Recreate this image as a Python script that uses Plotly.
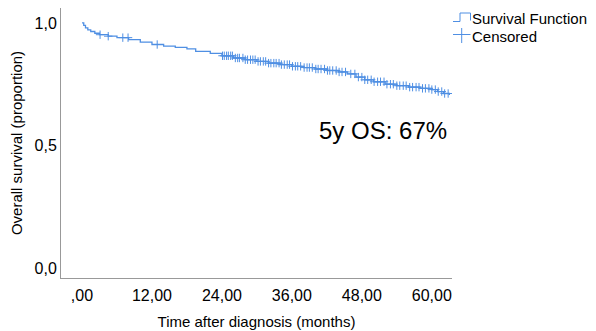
import plotly.graph_objects as go
import numpy as np

# Kaplan-Meier step knots (time in months, survival proportion)
step_time = [0, 0.3, 0.6, 1.0, 1.5, 2.2, 3.0, 4.5, 6.0, 8.0, 10.0, 12.0, 14.0, 16.0, 18.0,
             19.5, 22.0, 24.0, 26.0, 28.0, 30.0, 32.0, 34.0, 36.0, 38.0, 40.0, 42.0, 44.0,
             45.5, 47.0, 48.5, 50.0, 52.0, 54.0, 56.0, 58.0, 60.0, 61.0, 62.0, 63.0]
step_surv = [1.0, 0.99, 0.98, 0.972, 0.965, 0.958, 0.952, 0.946, 0.94, 0.932, 0.922, 0.912,
             0.905, 0.9, 0.894, 0.884, 0.876, 0.866, 0.857, 0.85, 0.843, 0.836, 0.83, 0.823,
             0.818, 0.812, 0.806, 0.8, 0.792, 0.779, 0.768, 0.76, 0.75, 0.744, 0.738, 0.733,
             0.728, 0.72, 0.712, 0.706]

# Censored observation times (months)
censored_time = [3.1, 4.5, 7.0, 7.9, 12.9,
                 24.1, 24.4, 24.8, 25.1, 25.5, 25.8, 26.3, 26.7, 27.0, 27.6, 28.0, 28.4,
                 28.9, 29.3, 29.7, 30.2, 30.6, 31.1, 31.5, 32.0, 32.4, 32.9, 33.3, 33.8,
                 34.2, 34.7, 35.2, 35.6, 36.1, 36.6, 37.0, 37.5, 38.1, 38.6, 39.0, 39.5,
                 40.1, 40.5, 41.0, 41.6, 42.1, 42.5, 43.0, 43.6, 44.1, 44.6, 45.2, 46.1,
                 46.8, 47.4, 48.0, 48.5, 49.0, 49.6, 50.1, 50.7, 51.2, 51.8, 52.3, 52.9,
                 53.4, 54.0, 54.5, 55.1, 55.6, 56.2, 56.7, 57.3, 57.8, 58.4, 58.9, 59.5,
                 60.0, 60.6, 61.1, 61.7, 62.2, 62.8]

x_tickvals = [0, 12, 24, 36, 48, 60]
x_ticktext = [",00", "12,00", "24,00", "36,00", "48,00", "60,00"]
y_tickvals = [0, 0.5, 1.0]
y_ticktext = ["0,0", "0,5", "1,0"]

legend_labels = ["Survival Function", "Censored"]
annotation_text = "5y OS: 67%"

color = "#4f8fe3"
FONT = "Liberation Sans, Arial, sans-serif"

# page has an 8px body margin; figure is sized to fit exactly
OFF = 8
W, H = 596 - OFF, 331 - OFF
L, R, T, B = 53, 144, 0, 53
PW, PH = W - L - R, H - T - B


def px(page_x):
    return (page_x - OFF - L) / PW


def py(page_y):
    return (H - B - (page_y - OFF)) / PH


st = np.array(step_time)
ss = np.array(step_surv)
ct = np.array(censored_time)
idx = np.searchsorted(st, ct, side="right") - 1
cs = ss[idx]

fig = go.Figure()
fig.add_trace(go.Scatter(x=step_time, y=step_surv, mode="lines", line_shape="hv",
                         line=dict(color=color, width=1.3), name=legend_labels[0],
                         showlegend=False))
fig.add_trace(go.Scatter(x=ct, y=cs, mode="markers", name=legend_labels[1],
                         marker=dict(symbol="cross-thin", size=6,
                                     line=dict(color=color, width=1)),
                         showlegend=False))

# manual legend (step icon + cross icon)
fig.add_shape(type="path", xref="paper", yref="paper",
              path=(f"M {px(453)} {py(21.5)} L {px(460)} {py(21.5)} L {px(460)} {py(13)} "
                    f"L {px(470.5)} {py(13)} L {px(470.5)} {py(20.5)}"),
              line=dict(color=color, width=1))
fig.add_shape(type="line", xref="paper", yref="paper",
              x0=px(453), x1=px(470.5), y0=py(34.5), y1=py(34.5),
              line=dict(color=color, width=1))
fig.add_shape(type="line", xref="paper", yref="paper",
              x0=px(461.7), x1=px(461.7), y0=py(28), y1=py(43),
              line=dict(color=color, width=1))
fig.add_annotation(xref="paper", yref="paper", x=px(470), y=py(18.5), text=legend_labels[0],
                   showarrow=False, xanchor="left", yanchor="middle",
                   font=dict(size=15, color="black", family=FONT))
fig.add_annotation(xref="paper", yref="paper", x=px(470), y=py(36.5), text=legend_labels[1],
                   showarrow=False, xanchor="left", yanchor="middle",
                   font=dict(size=15, color="black", family=FONT))

fig.add_annotation(x=51.6, y=0.563, text=annotation_text, showarrow=False,
                   font=dict(size=24, color="black", family=FONT))

fig.update_layout(
    width=W, height=H,
    margin=dict(l=L, r=R, t=T, b=B, pad=0),
    paper_bgcolor="white", plot_bgcolor="white",
    font=dict(family=FONT, color="black", size=13),
    showlegend=False,
    xaxis=dict(range=[-3.6, 63.46], tickvals=x_tickvals, ticktext=x_ticktext,
               showgrid=False, zeroline=False, showline=True, linecolor="#999999",
               linewidth=1, ticks="", tickfont=dict(size=16), ticklabelstandoff=3,
               automargin=False,
               title=dict(text="Time after diagnosis (months)", font=dict(size=15), standoff=13)),
    yaxis=dict(range=[-0.041, 1.061], tickvals=y_tickvals, ticktext=y_ticktext,
               showgrid=False, zeroline=False, showline=True, linecolor="#999999",
               linewidth=1, ticks="", tickfont=dict(size=16), automargin=False,
               title=dict(text="Overall survival (proportion)", font=dict(size=15), standoff=8)),
)

fig.write_html("out.html")
